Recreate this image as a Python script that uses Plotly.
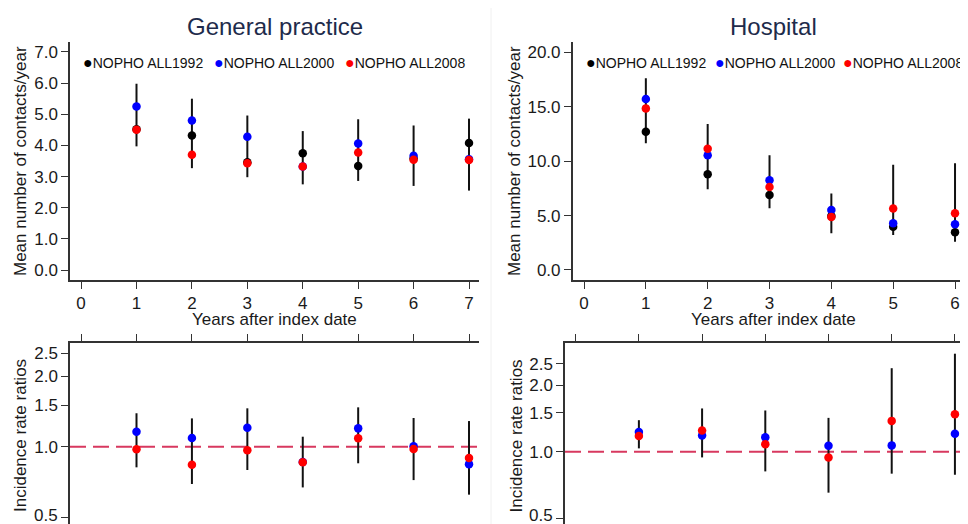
import plotly.graph_objects as go

# ---------------- data ----------------
series_names = ["NOPHO ALL1992", "NOPHO ALL2000", "NOPHO ALL2008"]
series_colors = ["#000000", "#0000ff", "#ff0000"]

years_gp = [1, 2, 3, 4, 5, 6, 7]
gp_1992 = [4.52, 4.32, 3.46, 3.75, 3.34, 3.58, 4.08]
gp_2000 = [5.25, 4.80, 4.28, 3.32, 4.06, 3.67, 3.56]
gp_2008 = [4.50, 3.70, 3.43, 3.32, 3.77, 3.54, 3.53]
gp_ci_low = [3.97, 3.27, 2.98, 2.75, 2.86, 2.70, 2.55]
gp_ci_high = [5.98, 5.50, 4.96, 4.46, 4.84, 4.64, 4.86]

years_hosp = [1, 2, 3, 4, 5, 6]
hosp_1992 = [12.71, 8.79, 6.89, 4.95, 3.98, 3.46]
hosp_2000 = [15.71, 10.54, 8.24, 5.51, 4.29, 4.20]
hosp_2008 = [14.85, 11.15, 7.63, 4.87, 5.64, 5.21]
hosp_ci_low = [11.64, 7.41, 5.67, 3.37, 3.22, 2.60]
hosp_ci_high = [17.61, 13.41, 10.54, 7.04, 9.68, 9.80]

irr_gp_2000 = [1.159, 1.089, 1.205, 0.860, 1.197, 1.004, 0.842]
irr_gp_2008 = [0.975, 0.838, 0.965, 0.858, 1.086, 0.977, 0.895]
irr_gp_ci_low = [0.817, 0.694, 0.796, 0.671, 0.850, 0.721, 0.625]
irr_gp_ci_high = [1.388, 1.320, 1.457, 1.103, 1.471, 1.325, 1.286]

irr_h_2000 = [1.228, 1.186, 1.162, 1.064, 1.069, 1.206]
irr_h_2008 = [1.178, 1.249, 1.083, 0.943, 1.380, 1.480]
irr_h_ci_low = [1.036, 0.943, 0.815, 0.653, 0.796, 0.787]
irr_h_ci_high = [1.390, 1.571, 1.538, 1.424, 2.390, 2.780]

x_ticks = [0, 1, 2, 3, 4, 5, 6, 7]
gp_yticks = [0, 1, 2, 3, 4, 5, 6, 7]
hosp_yticks = [0, 5, 10, 15, 20]
irr_ticks = [0.5, 1.0, 1.5, 2.0, 2.5]
irr_low_label = "0.5"

titles = ["General practice", "Hospital"]
y_title_top = "Mean number of contacts/year"
y_title_bottom = "Incidence rate ratios"
x_title = "Years after index date"

# ---------------- figure ----------------
# the page body has an 8px margin, so the figure is placed 8px in from the window corner
OFF = 8
W, H = 968 - OFF, 524 - OFF
FONT = "Arial, 'Liberation Sans', sans-serif"
AX = "#333333"

fig = go.Figure()


def ci_trace(years, lo, hi, xa, ya):
    xs, ys = [], []
    for yr, a, b in zip(years, lo, hi):
        xs += [yr, yr, None]
        ys += [a, b, None]
    return go.Scatter(x=xs, y=ys, mode="lines", line=dict(color="#111111", width=2),
                      xaxis=xa, yaxis=ya, showlegend=False, hoverinfo="skip")


def pts(years, vals, color, name, xa, ya):
    return go.Scatter(x=years, y=vals, mode="markers", name=name,
                      marker=dict(color=color, size=8.5, line=dict(width=0)),
                      xaxis=xa, yaxis=ya, showlegend=False)


# top-left
fig.add_trace(ci_trace(years_gp, gp_ci_low, gp_ci_high, "x", "y"))
for vals, c, n in zip([gp_1992, gp_2000, gp_2008], series_colors, series_names):
    fig.add_trace(pts(years_gp, vals, c, n, "x", "y"))
# top-right
fig.add_trace(ci_trace(years_hosp, hosp_ci_low, hosp_ci_high, "x2", "y2"))
for vals, c, n in zip([hosp_1992, hosp_2000, hosp_2008], series_colors, series_names):
    fig.add_trace(pts(years_hosp, vals, c, n, "x2", "y2"))
# bottom-left
fig.add_trace(ci_trace(years_gp, irr_gp_ci_low, irr_gp_ci_high, "x3", "y3"))
fig.add_trace(pts(years_gp, irr_gp_2000, series_colors[1], series_names[1], "x3", "y3"))
fig.add_trace(pts(years_gp, irr_gp_2008, series_colors[2], series_names[2], "x3", "y3"))
# bottom-right
fig.add_trace(ci_trace(years_hosp, irr_h_ci_low, irr_h_ci_high, "x4", "y4"))
fig.add_trace(pts(years_hosp, irr_h_2000, series_colors[1], series_names[1], "x4", "y4"))
fig.add_trace(pts(years_hosp, irr_h_2008, series_colors[2], series_names[2], "x4", "y4"))

tickfont = dict(family=FONT, size=17, color="#1a1a1a")
common = dict(showgrid=False, zeroline=False, showline=True, linecolor=AX, linewidth=1.5,
              ticks="outside", ticklen=7, tickwidth=1.3, tickcolor=AX, tickfont=tickfont)


def px_x(p):
    return (p - OFF) / W


def px_y(p):
    return 1 - (p - OFF) / H


top_dom = [px_y(280), px_y(42)]
bot_dom = [0, px_y(343)]

fig.update_layout(
    width=W, height=H,
    margin=dict(l=0, r=0, t=0, b=0),
    paper_bgcolor="white", plot_bgcolor="white",
    font=dict(family=FONT, color="#1a1a1a"),
    xaxis=dict(domain=[px_x(70), px_x(479)], anchor="y", range=[-0.2, 7.18],
               tickvals=x_ticks, **common),
    yaxis=dict(domain=top_dom, anchor="x", range=[-0.32, 7.32],
               tickvals=gp_yticks, tickformat=".1f", **common),
    xaxis2=dict(domain=[px_x(572.7), 1], anchor="y2", range=[-0.183, 6.21],
                tickvals=x_ticks, **common),
    yaxis2=dict(domain=top_dom, anchor="x2", range=[-0.92, 20.95],
                tickvals=hosp_yticks, tickformat=".1f", **common),
    xaxis3=dict(domain=[px_x(70), px_x(479)], anchor="y3", range=[-0.2, 7.18], side="top",
                tickvals=x_ticks, showticklabels=False, **common),
    yaxis3=dict(domain=bot_dom, anchor="x3", type="log", range=[-0.329, 0.4415],
                tickvals=irr_ticks, tickformat=".1f", **common),
    xaxis4=dict(domain=[px_x(565), 1], anchor="y4", range=[-0.169, 6.207], side="top",
                tickvals=x_ticks, showticklabels=False, **common),
    yaxis4=dict(domain=bot_dom, anchor="x4", type="log", range=[-0.327, 0.4925],
                tickvals=irr_ticks, tickformat=".1f", **common),
)

# reference lines at IRR = 1
for xa, ya in [("x3", "y3"), ("x4", "y4")]:
    fig.add_shape(type="line", xref=f"{xa} domain", yref=ya, x0=0, x1=1, y0=1, y1=1,
                  line=dict(color="#d8385f", width=2, dash="16px,7px"), layer="below")

# faint divider between combined graphs
fig.add_shape(type="line", xref="paper", yref="paper", x0=px_x(491), x1=px_x(491), y0=0, y1=1,
              line=dict(color="#f0f0f0", width=1))

ann = []
# panel titles
for t, cx in zip(titles, [275, 773]):
    ann.append(dict(text=t, x=px_x(cx), y=px_y(27), xref="paper", yref="paper",
                    showarrow=False, xanchor="center", yanchor="middle",
                    font=dict(family=FONT, size=24, color="#1e2b4b")))
# x axis titles
for cx in [274.5, 773]:
    ann.append(dict(text=x_title, x=px_x(cx), y=px_y(319.5), xref="paper", yref="paper",
                    showarrow=False, xanchor="center", yanchor="middle",
                    font=dict(family=FONT, size=17, color="#1a1a1a")))
# y axis titles
for t, cx, cy in [(y_title_top, 20, 161), (y_title_top, 514, 161),
                  (y_title_bottom, 20, 436), (y_title_bottom, 515.5, 436)]:
    ann.append(dict(text=t, x=px_x(cx), y=px_y(cy), xref="paper", yref="paper",
                    showarrow=False, xanchor="center", yanchor="middle", textangle=-90,
                    font=dict(family=FONT, size=17, color="#1a1a1a")))
# lowest IRR tick label sits at the cut bottom edge; plotly hides it, so label it directly
for rx in [59.5, 554.5]:
    ann.append(dict(text=irr_low_label, x=px_x(rx), y=px_y(515), xref="paper", yref="paper",
                    showarrow=False, xanchor="right", yanchor="middle",
                    font=dict(family=FONT, size=17, color="#1a1a1a")))
# legends (inside top panels)
for lefts in [[81, 212, 343], [583.5, 712.5, 841]]:
    for lx, n, c in zip(lefts, series_names, series_colors):
        ann.append(dict(text=f"<span style='color:{c};font-size:16px'>●</span>{n}",
                        x=px_x(lx), y=px_y(62.5), xref="paper", yref="paper",
                        showarrow=False, xanchor="left", yanchor="middle",
                        font=dict(family=FONT, size=14, color="#111111")))
fig.update_layout(annotations=ann)

fig.write_html("out.html")
